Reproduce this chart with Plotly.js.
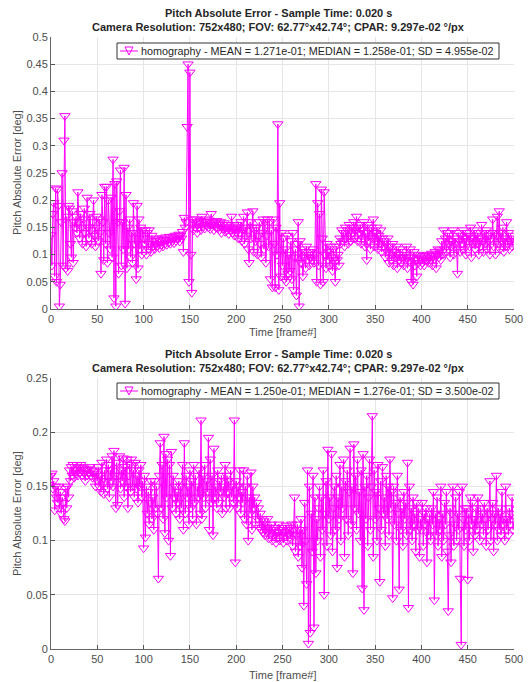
<!DOCTYPE html>
<html>
<head>
<meta charset="utf-8">
<script src="https://cdn.plot.ly/plotly-3.0.1.min.js"></script>
<style>html,body{margin:0;padding:0;background:#fff}#chart{width:531px;height:682px}</style>
</head>
<body>
<div id="chart"></div>
<script>
// Frame indices 0..500
var frames = [];
for (var i = 0; i <= 500; i++) frames.push(i);

// Top subplot: pitch absolute error [deg]
var pitchErrTop = [
0.136,0.080,0.175,0.195,0.060,0.222,0.050,0.220,0.190,0.005,
0.045,0.160,0.250,0.080,0.310,0.355,0.075,0.170,0.070,0.190,
0.185,0.120,0.095,0.180,0.085,0.160,0.150,0.170,0.140,0.215,
0.160,0.130,0.175,0.150,0.120,0.165,0.185,0.140,0.115,0.205,
0.150,0.130,0.175,0.145,0.120,0.160,0.200,0.135,0.115,0.170,
0.150,0.125,0.165,0.140,0.065,0.210,0.160,0.090,0.225,0.120,
0.225,0.085,0.200,0.140,0.110,0.205,0.095,0.275,0.020,0.230,
0.005,0.235,0.160,0.065,0.180,0.255,0.080,0.160,0.110,0.260,
0.010,0.210,0.075,0.150,0.110,0.165,0.095,0.140,0.085,0.195,
0.120,0.140,0.055,0.190,0.075,0.165,0.110,0.150,0.100,0.145,
0.130,0.120,0.145,0.100,0.140,0.110,0.145,0.120,0.105,0.135,
0.115,0.125,0.110,0.130,0.120,0.115,0.128,0.112,0.125,0.118,
0.130,0.115,0.127,0.120,0.132,0.118,0.128,0.122,0.133,0.120,
0.128,0.124,0.132,0.121,0.135,0.125,0.130,0.128,0.137,0.124,
0.135,0.130,0.142,0.105,0.168,0.150,0.160,0.335,0.450,0.050,
0.435,0.100,0.030,0.165,0.145,0.160,0.150,0.165,0.140,0.158,
0.150,0.162,0.145,0.170,0.152,0.160,0.148,0.165,0.155,0.160,
0.150,0.163,0.147,0.175,0.155,0.160,0.145,0.158,0.150,0.162,
0.148,0.156,0.145,0.160,0.140,0.155,0.148,0.158,0.142,0.150,
0.145,0.155,0.138,0.150,0.146,0.170,0.140,0.152,0.135,0.148,
0.142,0.155,0.130,0.150,0.140,0.160,0.125,0.145,0.170,0.120,
0.150,0.135,0.178,0.110,0.085,0.160,0.130,0.150,0.180,0.105,
0.145,0.125,0.150,0.100,0.135,0.160,0.120,0.095,0.140,0.165,
0.110,0.160,0.085,0.135,0.165,0.115,0.160,0.055,0.145,0.040,
0.165,0.120,0.040,0.150,0.100,0.340,0.035,0.195,0.060,0.140,
0.080,0.130,0.055,0.110,0.050,0.135,0.065,0.100,0.070,0.125,
0.055,0.140,0.035,0.095,0.110,0.025,0.120,0.160,0.005,0.125,
0.085,0.110,0.060,0.095,0.105,0.075,0.115,0.090,0.100,0.080,
0.105,0.095,0.090,0.110,0.085,0.100,0.230,0.050,0.195,0.080,
0.175,0.045,0.220,0.130,0.050,0.215,0.100,0.075,0.120,0.090,
0.105,0.080,0.115,0.095,0.070,0.110,0.085,0.050,0.115,0.090,
0.100,0.080,0.130,0.120,0.145,0.125,0.140,0.115,0.150,0.130,
0.145,0.120,0.155,0.135,0.125,0.150,0.140,0.160,0.130,0.145,
0.170,0.125,0.150,0.140,0.155,0.120,0.145,0.130,0.160,0.115,
0.140,0.090,0.155,0.125,0.145,0.110,0.150,0.130,0.165,0.115,
0.140,0.125,0.150,0.110,0.135,0.120,0.145,0.105,0.130,0.115,
0.125,0.095,0.120,0.105,0.130,0.085,0.115,0.100,0.090,0.120,
0.080,0.105,0.095,0.115,0.075,0.100,0.090,0.110,0.085,0.095,
0.105,0.080,0.100,0.090,0.115,0.075,0.095,0.088,0.110,0.050,
0.095,0.045,0.105,0.080,0.090,0.060,0.100,0.085,0.095,0.080,
0.092,0.085,0.098,0.080,0.095,0.090,0.088,0.100,0.085,0.095,
0.090,0.102,0.080,0.098,0.092,0.105,0.075,0.100,0.110,0.095,
0.108,0.090,0.125,0.100,0.145,0.110,0.130,0.105,0.140,0.120,
0.135,0.095,0.125,0.115,0.145,0.100,0.130,0.120,0.110,0.065,
0.140,0.125,0.105,0.135,0.120,0.145,0.110,0.130,0.100,0.140,
0.125,0.135,0.115,0.150,0.095,0.130,0.120,0.145,0.110,0.135,
0.120,0.140,0.100,0.130,0.115,0.155,0.125,0.105,0.140,0.120,
0.145,0.110,0.135,0.125,0.100,0.140,0.130,0.165,0.115,0.140,
0.100,0.135,0.170,0.120,0.180,0.110,0.140,0.125,0.150,0.105,
0.130,0.115,0.160,0.120,0.140,0.110,0.125,0.135,0.115,0.130,
0.125
];

// Bottom subplot: pitch absolute error [deg]
var pitchErrBottom = [
0.160,0.162,0.148,0.155,0.128,0.150,0.140,0.135,0.150,0.130,
0.145,0.125,0.140,0.135,0.120,0.118,0.148,0.130,0.150,0.140,
0.165,0.155,0.168,0.160,0.170,0.158,0.165,0.162,0.170,0.160,
0.168,0.163,0.170,0.165,0.160,0.167,0.162,0.155,0.165,0.160,
0.166,0.162,0.168,0.160,0.165,0.158,0.164,0.160,0.150,0.162,
0.155,0.168,0.150,0.160,0.145,0.172,0.152,0.143,0.165,0.155,
0.175,0.148,0.170,0.140,0.165,0.155,0.178,0.150,0.183,0.160,
0.130,0.172,0.133,0.160,0.178,0.148,0.165,0.155,0.176,0.140,
0.168,0.150,0.175,0.130,0.160,0.170,0.145,0.175,0.150,0.165,
0.140,0.172,0.148,0.160,0.135,0.165,0.150,0.170,0.140,0.155,
0.093,0.160,0.103,0.150,0.125,0.145,0.115,0.135,0.155,0.120,
0.140,0.110,0.155,0.130,0.150,0.125,0.065,0.160,0.190,0.130,
0.170,0.120,0.196,0.107,0.180,0.140,0.175,0.100,0.170,0.086,
0.182,0.130,0.160,0.140,0.150,0.125,0.145,0.135,0.155,0.120,
0.150,0.130,0.170,0.110,0.190,0.125,0.160,0.140,0.150,0.115,
0.165,0.130,0.155,0.120,0.170,0.135,0.160,0.115,0.150,0.140,
0.165,0.125,0.211,0.120,0.160,0.140,0.170,0.130,0.155,0.145,
0.195,0.110,0.175,0.135,0.160,0.105,0.185,0.140,0.150,0.130,
0.165,0.135,0.155,0.145,0.160,0.125,0.150,0.140,0.170,0.130,
0.160,0.145,0.155,0.130,0.165,0.140,0.150,0.135,0.211,0.080,
0.155,0.130,0.150,0.140,0.165,0.125,0.145,0.135,0.165,0.120,
0.150,0.115,0.160,0.100,0.140,0.125,0.163,0.110,0.150,0.130,
0.140,0.115,0.135,0.120,0.130,0.112,0.125,0.110,0.120,0.108,
0.118,0.105,0.115,0.108,0.120,0.102,0.112,0.106,0.115,0.100,
0.110,0.104,0.112,0.098,0.108,0.103,0.115,0.100,0.110,0.105,
0.112,0.098,0.108,0.104,0.114,0.100,0.110,0.106,0.112,0.102,
0.115,0.095,0.110,0.140,0.090,0.105,0.115,0.085,0.110,0.095,
0.120,0.075,0.110,0.040,0.135,0.100,0.060,0.165,0.005,0.150,
0.015,0.125,0.090,0.160,0.020,0.140,0.070,0.120,0.100,0.130,
0.150,0.085,0.140,0.110,0.165,0.050,0.125,0.155,0.095,0.184,
0.120,0.140,0.105,0.180,0.090,0.130,0.150,0.110,0.160,0.075,
0.140,0.120,0.170,0.100,0.150,0.130,0.175,0.085,0.155,0.120,
0.165,0.105,0.145,0.185,0.115,0.150,0.070,0.189,0.130,0.160,
0.110,0.175,0.125,0.145,0.100,0.165,0.056,0.180,0.036,0.150,
0.120,0.160,0.095,0.140,0.175,0.110,0.150,0.215,0.085,0.165,
0.120,0.145,0.100,0.170,0.130,0.062,0.155,0.110,0.168,0.125,
0.140,0.095,0.160,0.120,0.150,0.105,0.175,0.130,0.145,0.047,
0.150,0.115,0.135,0.100,0.160,0.125,0.055,0.140,0.110,0.130,
0.095,0.145,0.120,0.135,0.105,0.172,0.038,0.150,0.110,0.130,
0.100,0.140,0.115,0.125,0.090,0.135,0.110,0.130,0.085,0.120,
0.110,0.135,0.095,0.125,0.115,0.130,0.080,0.120,0.105,0.125,
0.100,0.130,0.115,0.145,0.045,0.125,0.105,0.140,0.095,0.120,
0.110,0.150,0.085,0.125,0.100,0.135,0.115,0.145,0.090,0.035,
0.105,0.130,0.080,0.125,0.150,0.095,0.115,0.140,0.100,0.125,
0.110,0.145,0.065,0.004,0.150,0.120,0.095,0.130,0.110,0.130,
0.064,0.125,0.100,0.140,0.115,0.135,0.090,0.120,0.105,0.130,
0.110,0.140,0.120,0.100,0.130,0.115,0.125,0.105,0.135,0.120,
0.095,0.130,0.110,0.125,0.155,0.100,0.120,0.135,0.090,0.125,
0.115,0.160,0.100,0.130,0.110,0.125,0.105,0.145,0.115,0.120,
0.100,0.150,0.110,0.120,0.105,0.130,0.115,0.125,0.140,0.110,
0.118
];

var titleLine1 = "Pitch Absolute Error - Sample Time: 0.020 s";
var titleLine2 = "Camera Resolution: 752x480; FOV: 62.77°x42.74°; CPAR: 9.297e-02 °/px";
var legendTop = "homography - MEAN = 1.271e-01; MEDIAN = 1.258e-01; SD = 4.955e-02";
var legendBottom = "homography - MEAN = 1.250e-01; MEDIAN = 1.276e-01; SD = 3.500e-02";
var xLabel = "Time [frame#]";
var yLabel = "Pitch Absolute Error [deg]";
var xTicks = [0,50,100,150,200,250,300,350,400,450,500];
var yTicksTop = [0,0.05,0.1,0.15,0.2,0.25,0.3,0.35,0.4,0.45,0.5];
var yTicksTopText = ["0","0.05","0.1","0.15","0.2","0.25","0.3","0.35","0.4","0.45","0.5"];
var yTicksBottom = [0,0.05,0.1,0.15,0.2,0.25];
var yTicksBottomText = ["0","0.05","0.1","0.15","0.2","0.25"];

var FONT = "Liberation Sans, Arial, Helvetica, sans-serif";
var MAG = "#ff00ff";
var marker = {symbol: "triangle-down-open", size: 9, color: MAG, line: {color: MAG, width: 1}};

var traces = [
  {x: frames, y: pitchErrTop, type: "scatter", mode: "lines+markers", name: legendTop,
   line: {color: MAG, width: 1}, marker: marker, xaxis: "x", yaxis: "y", showlegend: false},
  {x: frames, y: pitchErrBottom, type: "scatter", mode: "lines+markers", name: legendBottom,
   line: {color: MAG, width: 1}, marker: marker, xaxis: "x2", yaxis: "y2", showlegend: false}
];

function xax(anchor) {
  return {anchor: anchor, domain: [0, 1], range: [0, 500], tickvals: xTicks,
    ticks: "inside", ticklen: 4, tickcolor: "#555", showline: true, linecolor: "#666", linewidth: 1,
    showgrid: true, gridcolor: "#e6e6e6", zeroline: false, mirror: false,
    tickfont: {family: FONT, size: 11, color: "#4d4d4d"}};
}
function yax(anchor, dom, rng, tv, tt) {
  return {anchor: anchor, domain: dom, range: rng, tickvals: tv, ticktext: tt,
    ticks: "inside", ticklen: 4, tickcolor: "#555", showline: true, linecolor: "#666", linewidth: 1,
    showgrid: true, gridcolor: "#e6e6e6", zeroline: false,
    tickfont: {family: FONT, size: 11, color: "#4d4d4d"}};
}

// paper coordinate helpers (plot area: x 51..514 px, y 37..649 px)
function px(p) { return (p - 51) / 463; }
function py(p) { return (649 - p) / 612; }
var cx = px(278);

var ann = function (text, x, y, opts) {
  var a = {text: text, x: x, y: y, xref: "paper", yref: "paper", showarrow: false,
    xanchor: "center", yanchor: "middle", font: {family: FONT, size: 11, color: "#262626"}};
  for (var k in opts) a[k] = opts[k];
  return a;
};

// compact MATLAB-style legend boxes (box, line sample, open down-triangle, text)
function legendParts(top, label) {
  var mid = top + 8;
  var shapes = [
    {type: "rect", xref: "paper", yref: "paper", x0: px(117), x1: px(499), y0: py(top + 16), y1: py(top),
     line: {color: "#333333", width: 1}, fillcolor: "#ffffff", layer: "above"},
    {type: "line", xref: "paper", yref: "paper", x0: px(120), x1: px(138), y0: py(mid), y1: py(mid),
     line: {color: MAG, width: 1}, layer: "above"},
    {type: "path", xref: "paper", yref: "paper", layer: "above", fillcolor: "rgba(0,0,0,0)",
     line: {color: MAG, width: 1},
     path: "M " + px(125) + "," + py(mid - 4) + " L " + px(133) + "," + py(mid - 4) +
           " L " + px(129) + "," + py(mid + 4) + " Z"}
  ];
  var a = ann(label, px(139), py(mid), {xanchor: "left", font: {family: FONT, size: 10.8, color: "#262626"}});
  return {shapes: shapes, ann: a};
}
var legT = legendParts(43, legendTop);
var legB = legendParts(383, legendBottom);

var layout = {
  width: 531, height: 682,
  margin: {l: 51, r: 17, t: 37, b: 33},
  paper_bgcolor: "#ffffff", plot_bgcolor: "#ffffff",
  showlegend: false,
  font: {family: FONT},
  xaxis: xax("y"),
  yaxis: yax("x", [py(309), 1], [0, 0.5], yTicksTop, yTicksTopText),
  xaxis2: xax("y2"),
  yaxis2: yax("x2", [0, py(378)], [0, 0.25], yTicksBottom, yTicksBottomText),
  shapes: legT.shapes.concat(legB.shapes),
  annotations: [
    ann("<b>" + titleLine1 + "</b>", cx, py(13), {}),
    ann("<b>" + titleLine2 + "</b>", cx, py(27), {}),
    ann("<b>" + titleLine1 + "</b>", cx, py(354), {}),
    ann("<b>" + titleLine2 + "</b>", cx, py(368), {}),
    ann(xLabel, 0.5, py(332), {font: {family: FONT, size: 11, color: "#4d4d4d"}}),
    ann(xLabel, 0.5, py(675), {font: {family: FONT, size: 11, color: "#4d4d4d"}}),
    ann(yLabel, px(17), py(173), {textangle: -90, font: {family: FONT, size: 11, color: "#4d4d4d"}}),
    ann(yLabel, px(17), py(514), {textangle: -90, font: {family: FONT, size: 11, color: "#4d4d4d"}}),
    legT.ann, legB.ann
  ]
};

Plotly.newPlot("chart", traces, layout, {displayModeBar: false, staticPlot: true});
</script>
</body>
</html>
